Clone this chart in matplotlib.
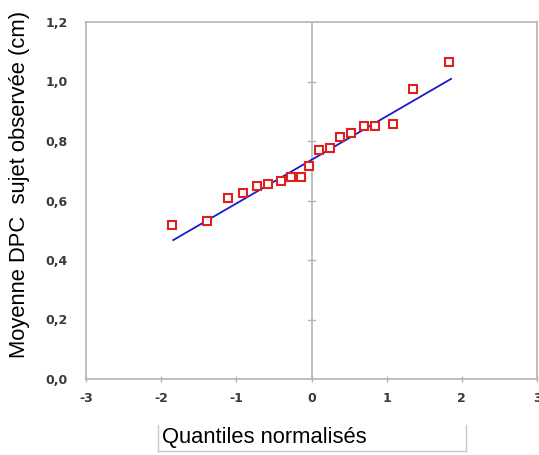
import matplotlib
matplotlib.use("Agg")
import matplotlib.pyplot as plt
from matplotlib.lines import Line2D

# Data
quantiles = [-1.862, -1.387, -1.113, -0.908, -0.731, -0.576, -0.412, -0.279, -0.146,
             -0.027, 0.106, 0.243, 0.376, 0.532, 0.695, 0.851, 1.081, 1.352, 1.826]
moyenne = [0.518, 0.531, 0.608, 0.625, 0.650, 0.654, 0.666, 0.678, 0.679,
           0.717, 0.770, 0.775, 0.814, 0.826, 0.849, 0.849, 0.856, 0.976, 1.066]
fit_x = [-1.839, 1.858]
fit_y = [0.467, 1.009]
xticks = [-3, -2, -1, 0, 1, 2, 3]
yticks = [0.0, 0.2, 0.4, 0.6, 0.8, 1.0, 1.2]
ytick_labels = ["0,0", "0,2", "0,4", "0,6", "0,8", "1,0", "1,2"]
xlabel = "Quantiles normalisés"
ylabel = "Moyenne DPC  sujet observée (cm)"

W, H = 539, 455
fig = plt.figure(figsize=(W / 100, H / 100), dpi=100)
ax = fig.add_axes([86 / W, 1 - 379 / H, (537 - 86) / W, (379 - 22) / H])

grey = "#b4b4b4"
ax.set_xlim(-3, 3)
ax.set_ylim(0, 1.2)
for s in ax.spines.values():
    s.set_color(grey)
    s.set_linewidth(1.2)

ax.axvline(0, color=grey, lw=1.2, zorder=1)

ax.plot(fit_x, fit_y, color="#1a1acc", lw=1.3, zorder=2)
ax.plot(quantiles, moyenne, ls="none", marker="s", ms=6.3, mfc="white",
        mec="#e02020", mew=1.5, zorder=3)

# ticks on x axis
ax.set_xticks(xticks)
ax.set_xticklabels([str(t) for t in xticks])
ax.tick_params(axis="x", direction="inout", length=5, width=1, color=grey,
               labelsize=9, labelcolor="#3a3a3a", pad=7)
# y ticks: drawn on vertical zero line
ax.set_yticks(yticks)
ax.set_yticklabels(ytick_labels)
ax.tick_params(axis="y", length=0, labelsize=9, labelcolor="#3a3a3a", pad=13)
for t in yticks[1:-1]:
    ax.plot([-0.045, 0.045], [t, t], color=grey, lw=1, zorder=1, clip_on=False)
for lab in ax.get_xticklabels() + ax.get_yticklabels():
    lab.set_fontweight("bold")
    lab.set_family("DejaVu Sans")

fig.text(20 / W, 1 - 184 / H, ylabel, rotation=90, ha="center", va="center",
         fontsize=15.8, family="Liberation Sans")

fig.text(162 / W, 1 - 437 / H, xlabel, ha="left", va="center",
         fontsize=15.8, family="Liberation Sans")
bx0, bx1, by0, by1 = 158 / W, 466 / W, 1 - 425 / H, 1 - 451 / H
box_c = "#c8c8c8"
fig.add_artist(Line2D([bx0, bx0], [by0, by1], color=box_c, lw=1, transform=fig.transFigure))
fig.add_artist(Line2D([bx1, bx1], [by0, by1], color=box_c, lw=1, transform=fig.transFigure))
fig.add_artist(Line2D([bx0, bx1], [by1, by1], color=box_c, lw=1, transform=fig.transFigure))

fig.savefig("out.png", dpi=100)
